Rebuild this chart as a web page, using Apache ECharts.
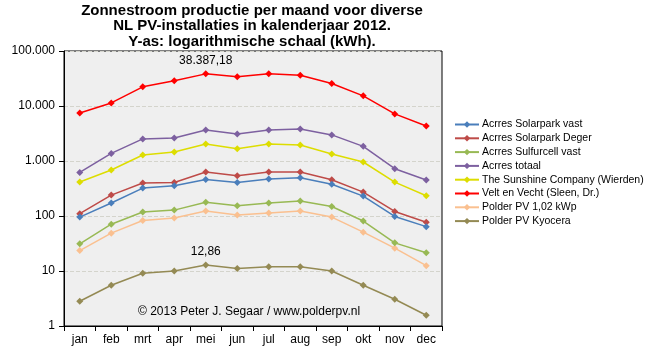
<!DOCTYPE html>
<html><head><meta charset="utf-8">
<script src="https://cdn.jsdelivr.net/npm/echarts@6/dist/echarts.min.js"></script>
<style>html,body{margin:0;padding:0;background:#fff}#c{width:651px;height:360px}</style>
</head><body><div id="c"></div>
<script>
const months = ['jan','feb','mrt','apr','mei','jun','jul','aug','sep','okt','nov','dec'];
const seriesNames = ['Acrres Solarpark vast','Acrres Solarpark Deger','Acrres Sulfurcell vast','Acrres totaal','The Sunshine Company (Wierden)','Velt en Vecht (Sleen, Dr.)','Polder PV 1,02 kWp','Polder PV Kyocera'];
const seriesColors = ['#4A7EBB','#BE4B48','#98B954','#7D60A0','#DDDD00','#FF0000','#FAC090','#948A54'];
const acrresVast = [95.5,172,322,355,462,408,470,496,378,230,98,64];
const acrresDeger = [110,240,397,408,630,540,630,630,456,272,121,77];
const acrresSulfurcell = [31.2,71,118,128,178,153,172,187,149,81,32.5,21.4];
const acrresTotaal = [620,1375,2520,2625,3670,3100,3670,3830,2980,1845,724,451];
const sunshine = [414,686,1286,1459,2040,1675,2040,1955,1342,959,414,233];
const veltVecht = [7480,11380,22300,28700,38387.18,33900,38400,36200,25600,15300,7180,4340];
const polderPV102 = [23.5,48.8,82.8,91.6,123,104,113,123,95.5,50.9,26,12.5];
const polderKyocera = [2.82,5.51,9.12,10.0,12.86,11.1,12.0,12.0,10.0,5.51,3.06,1.57];
const labelled = {5: 4, 7: 4}; // series index -> month index with data label
const yTicks = [1,10,100,1000,10000,100000];
const titleLines = ['Zonnestroom productie per maand voor diverse','NL PV-installaties in kalenderjaar 2012.','Y-as: logarithmische schaal (kWh).'];
const copyright = '© 2013 Peter J. Segaar / www.polderpv.nl';

const allData = [acrresVast,acrresDeger,acrresSulfurcell,acrresTotaal,sunshine,veltVecht,polderPV102,polderKyocera];
const FONT = 'Liberation Sans';
function nl(v){
  const parts = String(v).split('.');
  const int = parts[0].replace(/\B(?=(\d{3})+(?!\d))/g,'.');
  return parts.length>1 ? int + ',' + parts[1] : int;
}
const series = allData.map((d,i)=>({
  name: seriesNames[i], type:'line', symbol:'diamond', symbolSize:7,
  lineStyle:{width:1.5,color:seriesColors[i]}, itemStyle:{color:seriesColors[i]},
  data: d.map((v,j)=> (labelled[i]===j) ? {value:v,label:{show:true,position:'top',distance:4,
      formatter:p=>nl(p.value),color:'#000',fontFamily:FONT,fontSize:12}} : v),
  z: 10-i
}));
const chart = echarts.init(document.getElementById('c'),null,{renderer:'canvas'});
chart.setOption({
  animation:false,
  backgroundColor:'#fff',
  title:{text:titleLines.join('\n'),left:252,textAlign:'center',top:3,padding:0,
    textStyle:{fontFamily:FONT,fontSize:15,fontWeight:'bold',color:'#000',lineHeight:15.5}},
  grid:{left:64,right:209,top:51,bottom:34,show:true,backgroundColor:'#EFEFEF',borderColor:'#000',borderWidth:1},
  legend:{orient:'vertical',left:454,top:119,padding:0,itemWidth:24,itemHeight:8,itemGap:2.8,
    textStyle:{fontFamily:FONT,fontSize:10.5,color:'#000',padding:[0,0,0,-2]},data:seriesNames},
  xAxis:{type:'category',data:months,boundaryGap:true,
    axisLine:{lineStyle:{color:'#000'}},axisTick:{show:true,length:5,lineStyle:{color:'#000'}},
    axisLabel:{color:'#000',fontFamily:FONT,fontSize:12,margin:8}},
  yAxis:{type:'log',logBase:10,min:yTicks[0],max:yTicks[yTicks.length-1],
    axisLine:{show:true,lineStyle:{color:'#000'}},axisTick:{show:true,length:5,lineStyle:{color:'#000'}},
    splitLine:{show:true,lineStyle:{color:'#D4D4CC',type:'dashed'}},
    axisLabel:{color:'#000',fontFamily:FONT,fontSize:12,margin:9,formatter:v=>nl(Math.round(v))}},
  graphic:[{type:'text',left:138,top:306,style:{text:copyright,fontFamily:FONT,fontSize:12,fill:'#000'}}],
  series: series
});
</script></body></html>
